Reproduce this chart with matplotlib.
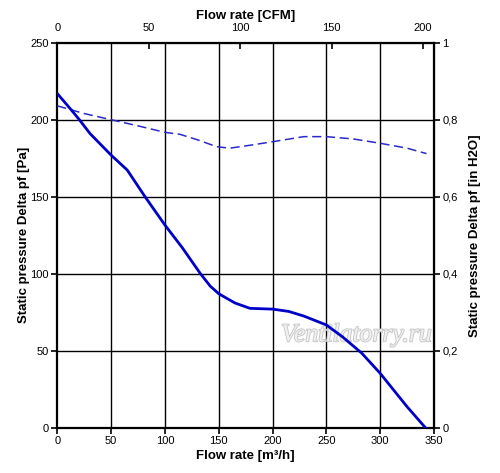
import numpy as np
import matplotlib.pyplot as plt
from matplotlib.ticker import FuncFormatter
import matplotlib.patheffects as pe

plt.rcParams['font.family'] = ['Liberation Sans', 'DejaVu Sans']

# Curva de presion estatica (m3/h, Pa)
q_p = [0, 13.4, 20.5, 30.4, 50, 65, 81.5, 100, 116, 133, 142, 150, 165, 179, 200, 215, 229, 250, 265, 283, 300, 325, 342]
p_p = [217, 206, 200, 191, 177, 167.3, 150, 131.6, 117, 100, 92, 87, 81, 77.5, 77, 75.5, 72.5, 66.7, 59, 48.3, 35.3, 13.6, 0]

# Curva discontinua (m3/h, Pa)
q_d = [0, 25, 50, 75, 100, 114, 130, 148, 160, 180, 200, 229, 250, 275, 300, 325, 343]
p_d = [209, 204, 200, 196, 191.8, 190.5, 187, 182.5, 181.5, 183.5, 185.7, 189, 189, 187.5, 184.7, 181.5, 178]

xt = np.arange(0, 351, 50)
yt = np.arange(0, 251, 50)
cfm_t = np.arange(0, 201, 50)
inh_t = np.arange(0, 1.01, 0.2)

fig = plt.figure(figsize=(5, 4.73), dpi=100)
ax = fig.add_axes([0.1146, 0.0958, 0.868 - 0.1146, 0.9097 - 0.0958])

for v in xt[1:-1]:
    ax.axvline(v, color='black', lw=1, zorder=1)
for v in yt[1:-1]:
    ax.axhline(v, color='black', lw=1, zorder=1)

ax.plot(q_d, p_d, '--', color='#2a2acc', lw=1.1, dashes=(6, 3), zorder=3)
ax.plot(q_p, p_p, '-', color='#0000c8', lw=2, zorder=3)

ax.set_xlim(0, 350); ax.set_xticks(xt)
ax.set_ylim(0, 250); ax.set_yticks(yt)
ax.tick_params(labelsize=8, length=4, width=1.2, direction='out', pad=2)
for s in ax.spines.values():
    s.set_linewidth(1.6)
ax.set_xlabel('Flow rate [m³/h]', fontsize=9.5, fontweight='bold', labelpad=3)
ax.set_ylabel('Static pressure Delta pf [Pa]', fontsize=9.5, fontweight='bold', labelpad=0)

top = ax.secondary_xaxis('top', functions=(lambda x: x / 1.699, lambda x: x * 1.699))
top.set_xticks(cfm_t)
top.tick_params(labelsize=8, length=4, width=1.2, direction='in', pad=7)
top.set_xlabel('Flow rate [CFM]', fontsize=9.5, fontweight='bold', labelpad=3)

right = ax.secondary_yaxis('right', functions=(lambda y: y / 250, lambda y: y * 250))
right.set_yticks(inh_t)
right.yaxis.set_major_formatter(FuncFormatter(lambda v, p: ('%g' % round(v, 1)).replace('.', ',')))
right.tick_params(labelsize=8, length=4, width=1.2, direction='out', pad=2)
right.set_ylabel('Static pressure Delta pf [in H2O]', fontsize=9.5, fontweight='bold', labelpad=8)

ax.text(278, 60, 'Ventilatorry.ru', fontsize=18.5, style='italic', family='Liberation Serif',
        color='#f0f0f0', ha='center', va='center', zorder=2,
        path_effects=[pe.withStroke(linewidth=1.2, foreground='#c4c4c4')])

fig.savefig('out.png', dpi=100)
